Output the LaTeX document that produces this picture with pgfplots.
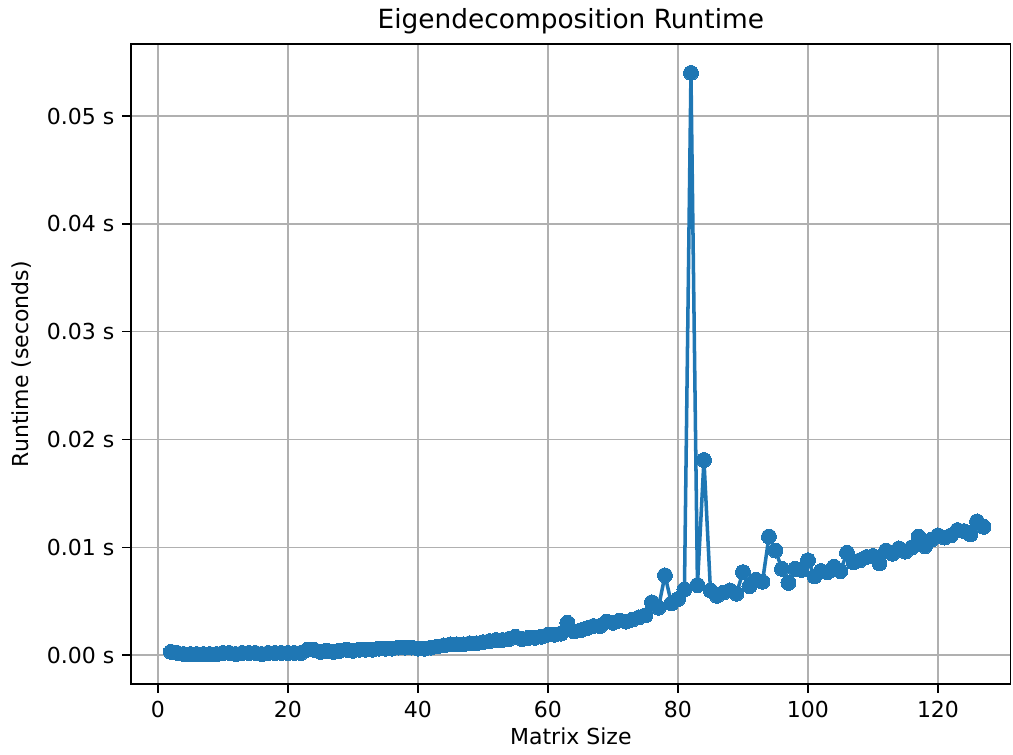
\documentclass[border=0pt]{standalone}
\usepackage{pgfplots}
\pgfplotsset{compat=1.18}
\usepackage{fontspec}
\setmainfont{DejaVu Sans}
\definecolor{mplblue}{HTML}{1F77B4}
\definecolor{gridc}{HTML}{B0B0B0}

\begin{document}
\begin{tikzpicture}
  \begin{axis}[
      scale only axis,
      width=400pt, height=291pt,
      xmin=-4.15, xmax=131.2, ymin=-0.00269, ymax=0.05668,
      xtick={0,20,40,60,80,100,120},
      ytick={0,0.01,0.02,0.03,0.04,0.05},
      yticklabels={0.00 s,0.01 s,0.02 s,0.03 s,0.04 s,0.05 s},
      scaled y ticks=false,
      /pgf/number format/assume math mode=true,
      tick align=outside, tick pos=left,
      major tick length=4pt,
      tick style={black, line width=0.6pt},
      axis line style={black, line width=0.6pt},
      grid=major,
      major grid style={gridc, line width=0.6pt},
      tick label style={font=\fontsize{10}{12}\selectfont},
      label style={font=\fontsize{10}{12}\selectfont},
      title={Eigendecomposition Runtime},
      title style={font=\fontsize{12}{14}\selectfont, yshift=-5pt},
      xlabel={Matrix Size},
      ylabel={Runtime (seconds)},
      xlabel style={yshift=2pt},
    ]
    \addplot[mplblue, line width=1.6pt, mark=*, mark size=3.4pt,
             mark options={fill=mplblue, draw=mplblue, line width=0pt}]
      coordinates {
        (2,0.0003) (3,0.0002) (4,0.0001) (5,0.0001) (6,0.0001) (7,0.0001)
        (8,0.0001) (9,0.0001) (10,0.0002) (11,0.0002) (12,0.0001) (13,0.0002)
        (14,0.0002) (15,0.0002) (16,0.0001) (17,0.0002) (18,0.0002) (19,0.0002)
        (20,0.0002) (21,0.0002) (22,0.0002) (23,0.0005) (24,0.0005) (25,0.0003)
        (26,0.0004) (27,0.0003) (28,0.0004) (29,0.0005) (30,0.0004) (31,0.0005)
        (32,0.0005) (33,0.0005) (34,0.0006) (35,0.0006) (36,0.0006) (37,0.0007)
        (38,0.0007) (39,0.0007) (40,0.0006) (41,0.0006) (42,0.0007) (43,0.0008)
        (44,0.0009) (45,0.0010) (46,0.0010) (47,0.0010) (48,0.0011) (49,0.0011)
        (50,0.0012) (51,0.0013) (52,0.0014) (53,0.0014) (54,0.0015) (55,0.0017)
        (56,0.0015) (57,0.0016) (58,0.0016) (59,0.0017) (60,0.0019) (61,0.0019)
        (62,0.0020) (63,0.0030) (64,0.0022) (65,0.0023) (66,0.0025) (67,0.0027)
        (68,0.0027) (69,0.0031) (70,0.0030) (71,0.0032) (72,0.0031) (73,0.0033)
        (74,0.0035) (75,0.0037) (76,0.0049) (77,0.0044) (78,0.0074) (79,0.0048)
        (80,0.0052) (81,0.0061) (82,0.0540) (83,0.0065) (84,0.0181) (85,0.0060)
        (86,0.0055) (87,0.0058) (88,0.0060) (89,0.0057) (90,0.0077) (91,0.0064)
        (92,0.0070) (93,0.0068) (94,0.0110) (95,0.0097) (96,0.0080) (97,0.0067)
        (98,0.0080) (99,0.0079) (100,0.0088) (101,0.0073) (102,0.0078) (103,0.0077)
        (104,0.0082) (105,0.0078) (106,0.0095) (107,0.0086) (108,0.0088) (109,0.0091)
        (110,0.0092) (111,0.0085) (112,0.0097) (113,0.0094) (114,0.0099) (115,0.0096)
        (116,0.0100) (117,0.0110) (118,0.0101) (119,0.0107) (120,0.0111) (121,0.0109)
        (122,0.0111) (123,0.0116) (124,0.0115) (125,0.0112) (126,0.0124) (127,0.0119)
      };
  \end{axis}
  \pgfresetboundingbox
  \path[use as bounding box] ([shift={(-59.5pt,-32pt)}]current axis.south west)
    rectangle ([shift={(1pt,20pt)}]current axis.north east);
\end{tikzpicture}
\end{document}
